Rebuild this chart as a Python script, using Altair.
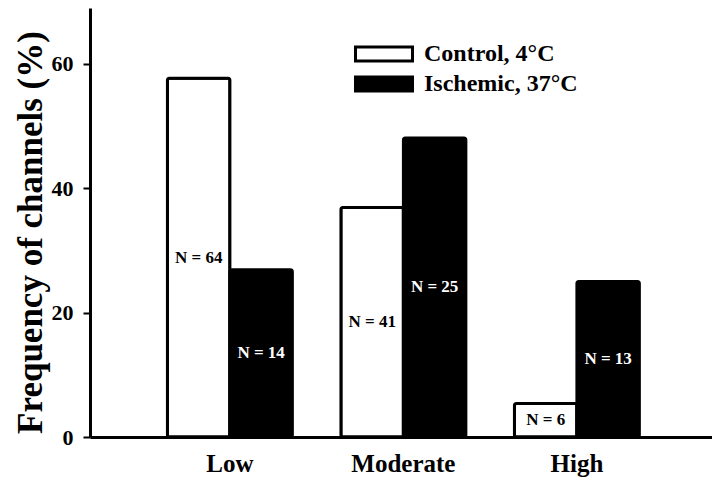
import altair as alt
import pandas as pd

categories = ["Low", "Moderate", "High"]
groups = ["Control, 4°C", "Ischemic, 37°C"]
control_pct = [57.7, 36.9, 5.4]
ischemic_pct = [26.9, 48.1, 25.0]
control_n = [64, 41, 6]
ischemic_n = [14, 25, 13]
y_ticks = [0, 20, 40, 60]

rows = []
for i, c in enumerate(categories):
    rows.append({"Level": c, "Group": groups[0], "Pct": control_pct[i], "N": control_n[i]})
    rows.append({"Level": c, "Group": groups[1], "Pct": ischemic_pct[i], "N": ischemic_n[i]})
df = pd.DataFrame(rows)

FONT = "Liberation Serif"

x = alt.X(
    "Level:N",
    sort=categories,
    scale=alt.Scale(paddingInner=0.28, paddingOuter=0.4325, align=0.516),
    axis=alt.Axis(
        title=None, labelAngle=0, ticks=False, tickSize=0, labelPadding=14,
        labelFont=FONT, labelFontSize=25, labelFontWeight="bold", labelColor="black",
        domainColor="black", domainWidth=3,
    ),
)
xoff = alt.XOffset("Group:N", sort=groups, scale=alt.Scale(domain=groups, paddingInner=0, paddingOuter=0))
y = alt.Y(
    "Pct:Q",
    scale=alt.Scale(domain=[0, 69], nice=False),
    axis=alt.Axis(
        title="Frequency of channels (%)", values=y_ticks, grid=False,
        tickSize=7, tickWidth=2, tickColor="black", labelPadding=10,
        labelFont=FONT, labelFontSize=22, labelFontWeight="bold", labelColor="black",
        domainColor="black", domainWidth=3,
        titleFont=FONT, titleFontSize=35, titleFontWeight="bold", titleColor="black",
        titlePadding=3, titleY=224,
    ),
)

bars = alt.Chart(df).mark_bar(stroke="black", strokeWidth=3, cornerRadius=2).encode(
    x=x,
    xOffset=xoff,
    y=y,
    fill=alt.Fill(
        "Group:N",
        sort=groups,
        scale=alt.Scale(domain=groups, range=["white", "black"]),
        legend=alt.Legend(
            title=None, orient="none", legendX=278, legendY=30,
            symbolType="M-2,-0.5H2V0.5H-2Z", symbolSize=812,
            symbolStrokeColor="black", symbolStrokeWidth=3, symbolOpacity=1,
            labelFont=FONT, labelFontSize=24, labelFontWeight="bold", labelColor="black",
            labelOffset=24, rowPadding=0, padding=0,
        ),
    ),
)

labels = alt.Chart(df).transform_calculate(
    mid="datum.Pct / 2", lab="'N = ' + datum.N"
).mark_text(font=FONT, fontSize=17, fontWeight="bold").encode(
    x=x,
    xOffset=xoff,
    y=alt.Y("mid:Q"),
    text="lab:N",
    color=alt.Color("Group:N", sort=groups,
                    scale=alt.Scale(domain=groups, range=["black", "white"]), legend=None),
)

chart = alt.layer(bars, labels).resolve_scale(color="independent").properties(
    width=622, height=429,
    autosize=alt.AutoSizeParams(type="none"),
    padding={"left": 82, "top": 0, "right": 0, "bottom": 42},
).configure_view(stroke=None)

chart.save("out.html", embed_options={"renderer": "svg", "actions": False})
